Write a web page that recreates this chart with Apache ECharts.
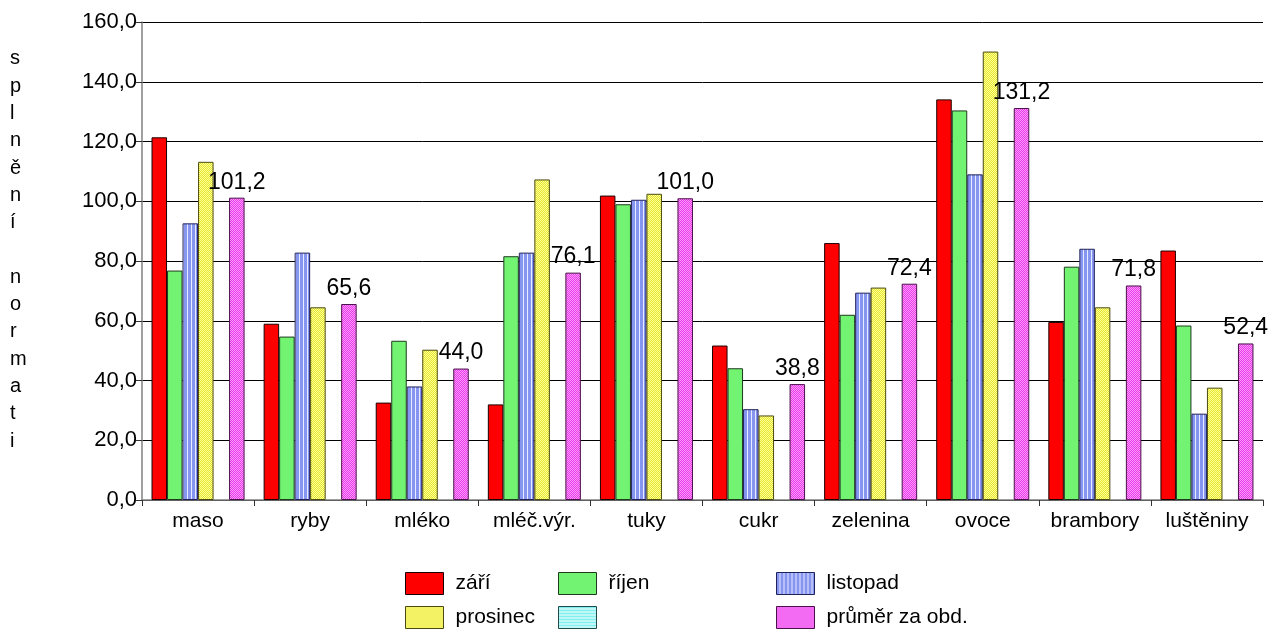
<!DOCTYPE html>
<html>
<head>
<meta charset="utf-8">
<script src="https://cdn.jsdelivr.net/npm/echarts@6/dist/echarts.min.js"></script>
<style>
html,body{margin:0;padding:0;background:#fff;}
#chart{width:1271px;height:633px;}
</style>
</head>
<body>
<div id="chart"></div>
<script>
const categories = ['maso','ryby','mléko','mléč.výr.','tuky','cukr','zelenina','ovoce','brambory','luštěniny'];
const zari      = [121.4, 59.0, 32.6, 32.0, 101.9, 51.7, 86.0, 134.1, 59.6, 83.5];
const rijen     = [76.8, 54.7, 53.3, 81.6, 99.0, 44.1, 62.0, 130.4, 78.1, 58.4];
const listopad  = [92.6, 82.8, 38.0, 82.8, 100.5, 30.4, 69.4, 109.0, 84.1, 28.9];
const prosinec  = [113.2, 64.5, 50.3, 107.3, 102.5, 28.3, 71.1, 150.1, 64.5, 37.6];
const prazdna   = [null, null, null, null, null, null, null, null, null, null];
const prumer    = [101.2, 65.6, 44.0, 76.1, 101.0, 38.8, 72.4, 131.2, 71.8, 52.4];
const seriesNames = ['září','říjen','listopad','prosinec',' ','průměr za obd.'];
const yTicks = [0,20,40,60,80,100,120,140,160];
const yTitle = ['s','p','l','n','ě','n','í',' ','n','o','r','m','a','t','i'];

function pattern(w, h, draw) {
  const c = document.createElement('canvas');
  c.width = w; c.height = h;
  const ctx = c.getContext('2d');
  draw(ctx);
  return { image: c, repeat: 'repeat' };
}
const bluePat = pattern(4, 4, ctx => {
  ctx.fillStyle = '#8696f0'; ctx.fillRect(0,0,4,4);
  ctx.fillStyle = '#e6ebff'; ctx.fillRect(3,0,1,4);
});
const yellowPat = pattern(2, 2, ctx => {
  ctx.fillStyle = '#e6e630'; ctx.fillRect(0,0,2,2);
  ctx.fillStyle = '#ffff98'; ctx.fillRect(0,0,1,1); ctx.fillRect(1,1,1,1);
});
const pinkPat = pattern(2, 2, ctx => {
  ctx.fillStyle = '#e838e8'; ctx.fillRect(0,0,2,2);
  ctx.fillStyle = '#ff9cff'; ctx.fillRect(0,0,1,1); ctx.fillRect(1,1,1,1);
});
const cyanPat = pattern(3, 3, ctx => {
  ctx.fillStyle = '#80f0f0'; ctx.fillRect(0,0,3,3);
  ctx.fillStyle = '#ffffff'; ctx.fillRect(0,2,3,1);
});

const fmt = v => Number(v).toFixed(1).replace('.', ',');
const FONT = 'Liberation Sans, Arial, sans-serif';

const styles = [
  { color: '#ff0000', borderColor: '#1a0000' },
  { color: '#72f472', borderColor: '#1c3a1c' },
  { color: bluePat, borderColor: '#20205a' },
  { color: yellowPat, borderColor: '#4a4a10' },
  { color: cyanPat, borderColor: '#204a4a' },
  { color: pinkPat, borderColor: '#4a104a' }
];
const datas = [zari, rijen, listopad, prosinec, prazdna, prumer];

const series = datas.map((d, i) => ({
  name: seriesNames[i],
  type: 'bar',
  data: d,
  barGap: '0%',
  barCategoryGap: '17%',
  itemStyle: Object.assign({ borderWidth: 1 }, styles[i]),
  emphasis: { disabled: true },
  label: i === 5 ? {
    show: true, position: 'top', distance: 4,
    formatter: p => fmt(p.value),
    fontFamily: FONT, fontSize: 23, color: '#000'
  } : { show: false }
}));

const legendPos = [
  { left: 405, top: 572 }, { left: 558, top: 572 }, { left: 776, top: 572 },
  { left: 405, top: 606 }, { left: 558, top: 606 }, { left: 776, top: 606 }
];
const legends = seriesNames.map((n, i) => ({
  left: legendPos[i].left, top: legendPos[i].top,
  data: [n],
  icon: 'rect',
  itemWidth: 38, itemHeight: 22,
  selectedMode: false,
  padding: 0,
  itemStyle: { borderWidth: 1 },
  textStyle: { fontFamily: FONT, fontSize: 21, color: '#000', padding: [0, 0, 0, 7] }
}));

const chart = echarts.init(document.getElementById('chart'), null, { renderer: 'canvas' });
chart.setOption({
  animation: false,
  backgroundColor: '#fff',
  grid: { left: 142, right: 8, top: 22, bottom: 133, containLabel: false },
  legend: legends,
  xAxis: {
    type: 'category',
    data: categories,
    axisLine: { lineStyle: { color: '#808080', width: 1.5 } },
    axisTick: { show: true, length: 6, lineStyle: { color: '#333' } },
    axisLabel: { interval: 0, fontFamily: FONT, fontSize: 21, color: '#000', margin: 11 }
  },
  yAxis: {
    type: 'value',
    min: yTicks[0], max: yTicks[yTicks.length - 1], interval: 20,
    axisLine: { show: true, lineStyle: { color: '#808080', width: 1.5 } },
    axisTick: { show: true, length: 6, lineStyle: { color: '#333' } },
    axisLabel: { fontFamily: FONT, fontSize: 22, color: '#000', margin: 5, formatter: v => fmt(v) },
    splitLine: { show: true, lineStyle: { color: '#000', width: 1 } }
  },
  graphic: [{
    type: 'text',
    left: 10, top: 45,
    style: {
      text: yTitle.join('\n'),
      fontFamily: FONT, fontSize: 20, fill: '#000',
      lineHeight: 27.33, align: 'center'
    }
  }],
  series: series
});
</script>
</body>
</html>
